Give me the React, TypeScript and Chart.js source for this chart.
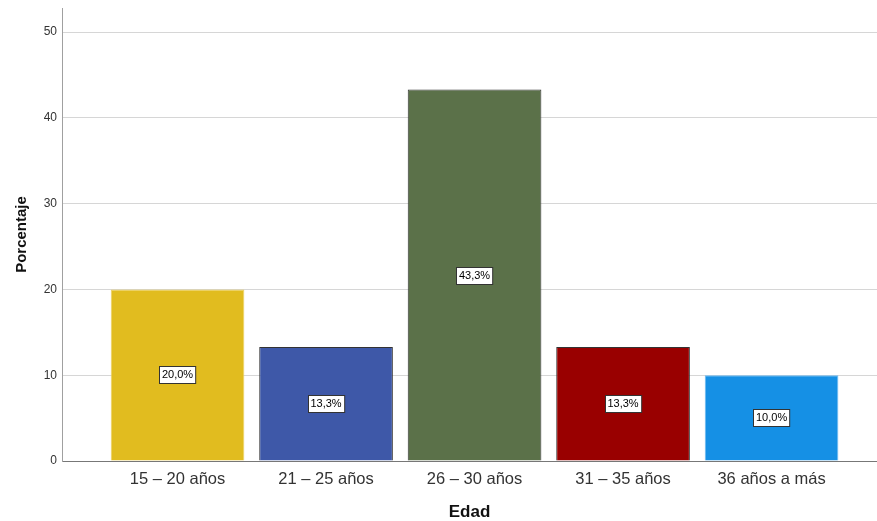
import React, { useEffect, useRef } from "react";
import { Chart, registerables } from "chart.js";

Chart.register(...registerables);

// Age groups and their share of respondents (%)
const categories = ["15 – 20 años", "21 – 25 años", "26 – 30 años", "31 – 35 años", "36 años a más"];
const percentages = [20.0, 13.3, 43.3, 13.3, 10.0];
const barColors = ["#e1bc1f", "#3e58a8", "#5b7149", "#990000", "#1590e5"];
const barBorders = ["#ecd060", "#333333", "#333333", "#333333", "#6ab8f0"];
const yTicks = [0, 10, 20, 30, 40, 50];

const FONT = "'Liberation Sans', Arial, sans-serif";

// Draws the boxed "xx,x%" label in the middle of every bar
const valueBoxes = {
  id: "valueBoxes",
  afterDatasetsDraw(chart: any) {
    const ctx = chart.ctx;
    const meta = chart.getDatasetMeta(0);
    ctx.save();
    ctx.font = `11px ${FONT}`;
    ctx.textAlign = "center";
    ctx.textBaseline = "middle";
    meta.data.forEach((bar: any, i: number) => {
      const text = percentages[i].toFixed(1).replace(".", ",") + "%";
      const cx = bar.x;
      const cy = (bar.y + bar.base) / 2;
      const w = ctx.measureText(text).width + 5;
      const h = 17;
      const left = Math.round(cx - w / 2) + 0.5;
      const top = Math.round(cy - h / 2) + 0.5;
      ctx.fillStyle = "#ffffff";
      ctx.fillRect(left, top, w, h);
      ctx.strokeStyle = "#333333";
      ctx.lineWidth = 1;
      ctx.strokeRect(left, top, w, h);
      ctx.fillStyle = "#000000";
      ctx.fillText(text, cx, cy + 0.5);
    });
    ctx.restore();
  },
};

export default function App() {
  const canvasRef = useRef<HTMLCanvasElement | null>(null);

  useEffect(() => {
    if (!canvasRef.current) return;
    const chart = new Chart(canvasRef.current, {
      type: "bar",
      data: {
        datasets: [
          {
            data: percentages.map((v, i) => ({ x: i, y: v })),
            backgroundColor: barColors,
            borderColor: barBorders,
            borderWidth: 1,
            categoryPercentage: 1,
            barPercentage: 0.9,
          },
        ],
      },
      options: {
        animation: false,
        responsive: true,
        maintainAspectRatio: false,
        layout: { padding: { top: 8, left: 0, right: 0, bottom: 0 } },
        plugins: {
          legend: { display: false },
          tooltip: { enabled: false },
        },
        scales: {
          x: {
            type: "linear",
            offset: false,
            min: -0.778,
            max: 4.71,
            grid: { display: false, drawTicks: false, offset: false },
            border: { display: true, color: "#777777", width: 1 },
            ticks: {
              stepSize: 1,
              includeBounds: false,
              autoSkip: false,
              maxRotation: 0,
              padding: 9,
              color: "#333333",
              font: { family: FONT, size: 16.5 },
              callback: (v: any) => (Number.isInteger(v) && categories[v] !== undefined ? categories[v] : ""),
            },
            title: {
              display: true,
              text: "Edad",
              color: "#111111",
              font: { family: FONT, size: 17, weight: "bold", lineHeight: 1 },
              padding: { top: 0, bottom: 0 },
            },
            afterFit: (scale: any) => {
              scale.height = 60;
              scale.paddingLeft = 0;
              scale.paddingRight = 0;
            },
          },
          y: {
            min: 0,
            max: 52.8,
            grid: {
              color: "#d6d6d6",
              drawTicks: false,
            },
            border: { display: true, color: "#a0a0a0", width: 1 },
            ticks: {
              stepSize: 10,
              includeBounds: false,
              padding: 5,
              color: "#333333",
              font: { family: FONT, size: 12 },
              callback: (v: any) => (yTicks.includes(v) ? String(v) : ""),
            },
            title: {
              display: true,
              text: "Porcentaje",
              color: "#111111",
              font: { family: FONT, size: 15, weight: "bold" },
              padding: { top: 13, bottom: 0 },
            },
            afterFit: (scale: any) => {
              scale.width = 62;
              scale.paddingTop = 0;
              scale.paddingBottom = 0;
            },
          },
        },
      },
      plugins: [valueBoxes],
    });
    return () => chart.destroy();
  }, []);

  return (
    <div style={{ position: "fixed", left: 0, top: 0, width: 877, height: 521, background: "#ffffff" }}>
      <canvas ref={canvasRef} />
    </div>
  );
}
